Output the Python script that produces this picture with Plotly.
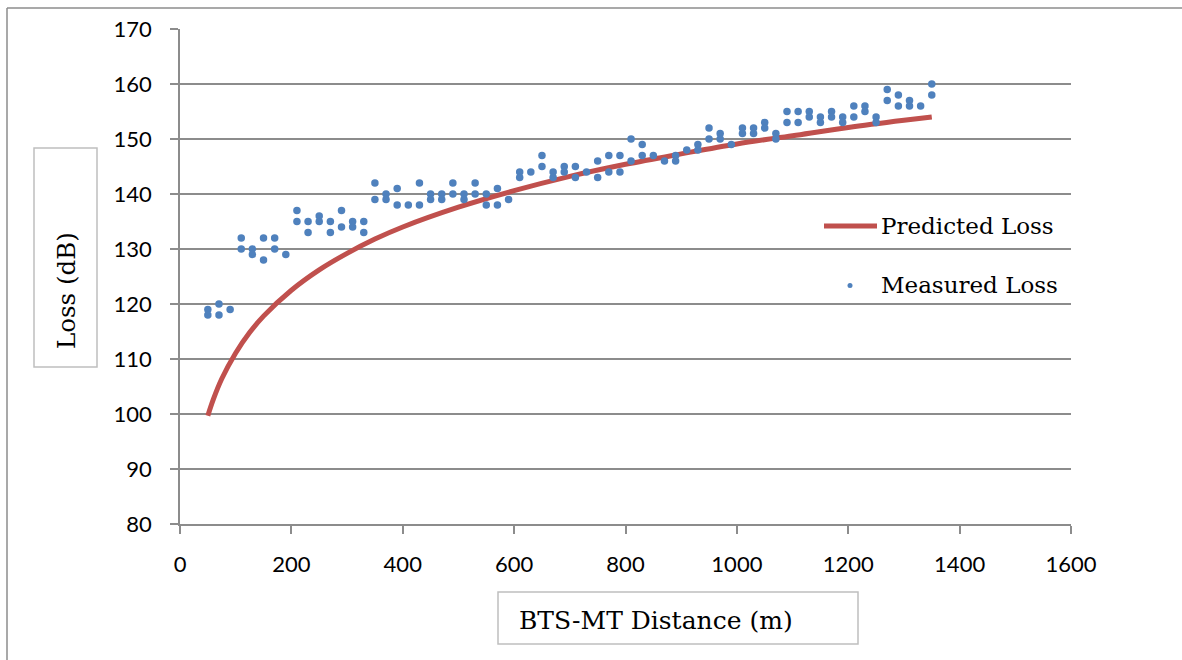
import plotly.graph_objects as go

# ---------------- data ----------------
meas_distance = [50, 50, 70, 70, 90, 110, 110, 130, 130, 150, 150, 170, 170, 190,
                 210, 210, 230, 230, 250, 250, 270, 270, 290, 290, 310, 310, 330, 330,
                 350, 350, 370, 370, 390, 390, 410, 430, 430, 450, 450, 470, 470,
                 490, 490, 510, 510, 530, 530, 550, 550, 570, 570, 590,
                 610, 610, 630, 650, 650, 670, 670, 690, 690, 710, 710, 730,
                 750, 750, 770, 770, 790, 790, 810, 810, 830, 830, 850, 870,
                 890, 890, 910, 930, 930, 950, 950, 970, 970, 990,
                 1010, 1010, 1030, 1030, 1050, 1050, 1070, 1070, 1090, 1090,
                 1110, 1110, 1130, 1130, 1150, 1150, 1170, 1170, 1190, 1190,
                 1210, 1210, 1230, 1230, 1250, 1250, 1270, 1270, 1290, 1290,
                 1310, 1310, 1330, 1350, 1350]
meas_loss = [119, 118, 120, 118, 119, 132, 130, 130, 129, 132, 128, 132, 130, 129,
             137, 135, 135, 133, 136, 135, 135, 133, 137, 134, 135, 134, 135, 133,
             142, 139, 140, 139, 141, 138, 138, 142, 138, 140, 139, 140, 139,
             142, 140, 140, 139, 142, 140, 140, 138, 141, 138, 139,
             144, 143, 144, 147, 145, 144, 143, 145, 144, 145, 143, 144,
             146, 143, 147, 144, 147, 144, 150, 146, 149, 147, 147, 146,
             147, 146, 148, 149, 148, 152, 150, 151, 150, 149,
             152, 151, 152, 151, 153, 152, 151, 150, 155, 153,
             155, 153, 155, 154, 154, 153, 155, 154, 154, 153,
             156, 154, 156, 155, 154, 153, 159, 157, 158, 156,
             157, 156, 156, 160, 158]

pred_distance = [50, 60, 75, 100, 125, 150, 200, 250, 300, 350, 400, 500, 600, 700,
                 800, 900, 1000, 1100, 1200, 1300, 1350]
pred_loss = [99.7, 102.7, 106.4, 111.1, 114.8, 117.8, 122.5, 126.2, 129.2, 131.8,
             134.0, 137.6, 140.6, 143.2, 145.4, 147.3, 149.1, 150.6, 152.1, 153.4, 154.0]

x_ticks = [0, 200, 400, 600, 800, 1000, 1200, 1400, 1600]
y_ticks = [80, 90, 100, 110, 120, 130, 140, 150, 160, 170]

series_names = ["Predicted Loss", "Measured Loss"]
x_title = "BTS-MT Distance (m)"
y_title = "Loss (dB)"

# ---------------- layout helpers ----------------
W, H = 1182, 660
ML, MR, MT, MB = 180, 111, 29, 136
PW = W - ML - MR
PH = H - MT - MB


def px(x):
    return (x - ML) / PW


def py(y):
    return (H - MB - y) / PH


RED = "#C0504D"
BLUE = "#4F81BD"
GRID = "#8C8C8C"
BOX = "#BFBFBF"
SERIF = "DejaVu Serif"
SANS = "Lato"

fig = go.Figure()
fig.add_trace(go.Scatter(
    x=pred_distance, y=pred_loss, mode="lines", name=series_names[0],
    line=dict(color=RED, width=5, shape="spline"), showlegend=False,
))
fig.add_trace(go.Scatter(
    x=meas_distance, y=meas_loss, mode="markers", name=series_names[1],
    marker=dict(color=BLUE, size=7.5, line=dict(width=0)), showlegend=False,
))

shapes = [
    # outer chart border (left + top visible)
    dict(type="line", xref="paper", yref="paper", x0=px(7), y0=py(8), x1=px(1182), y1=py(8),
         line=dict(color=GRID, width=1.5), layer="below"),
    dict(type="line", xref="paper", yref="paper", x0=px(7), y0=py(8), x1=px(7), y1=py(660),
         line=dict(color=GRID, width=1.5), layer="below"),
    # y title box
    dict(type="rect", xref="paper", yref="paper", x0=px(34), y0=py(148), x1=px(97), y1=py(367),
         line=dict(color=BOX, width=1.5), fillcolor="white"),
    # x title box
    dict(type="rect", xref="paper", yref="paper", x0=px(498), y0=py(592), x1=px(858), y1=py(644),
         line=dict(color=BOX, width=1.5), fillcolor="white"),
    # legend line sample
    dict(type="line", xref="paper", yref="paper", x0=px(824), y0=py(226), x1=px(877), y1=py(226),
         line=dict(color=RED, width=5)),
    # legend marker sample
    dict(type="circle", xref="paper", yref="paper", x0=px(847.5), y0=py(283), x1=px(852.5), y1=py(288),
         line=dict(width=0), fillcolor=BLUE),
]

annotations = [
    dict(text=y_title, xref="paper", yref="paper", x=px(66), y=py(291), textangle=-90,
         showarrow=False, xanchor="center", yanchor="middle",
         font=dict(family=SERIF, size=24.5, color="black")),
    dict(text=x_title, xref="paper", yref="paper", x=px(517), y=py(620),
         showarrow=False, xanchor="left", yanchor="middle",
         font=dict(family=SERIF, size=25, color="black")),
    dict(text=series_names[0], xref="paper", yref="paper", x=px(879), y=py(226),
         showarrow=False, xanchor="left", yanchor="middle",
         font=dict(family=SERIF, size=23, color="black")),
    dict(text=series_names[1], xref="paper", yref="paper", x=px(879), y=py(285),
         showarrow=False, xanchor="left", yanchor="middle",
         font=dict(family=SERIF, size=23, color="black")),
]

fig.update_layout(
    width=W, height=H,
    margin=dict(l=ML, r=MR, t=MT, b=MB, pad=0),
    paper_bgcolor="white", plot_bgcolor="white",
    shapes=shapes, annotations=annotations,
    showlegend=False,
    xaxis=dict(range=[0, 1600], tickvals=x_ticks, ticktext=[str(v) for v in x_ticks],
               showgrid=False, zeroline=False, showline=True, linecolor=GRID, linewidth=1.5,
               ticks="outside", ticklen=8, tickwidth=1.5, tickcolor=GRID,
               tickfont=dict(family=SANS, size=22, color="black"), ticklabelstandoff=12),
    yaxis=dict(range=[80, 170], tickvals=y_ticks, ticktext=[str(v) for v in y_ticks],
               showgrid=True, gridcolor=GRID, gridwidth=1.5, zeroline=False,
               showline=True, linecolor=GRID, linewidth=1.5,
               ticks="outside", ticklen=8, tickwidth=1.5, tickcolor=GRID,
               tickfont=dict(family=SANS, size=22, color="black"), ticklabelstandoff=14),
)

fig.write_html("out.html")
